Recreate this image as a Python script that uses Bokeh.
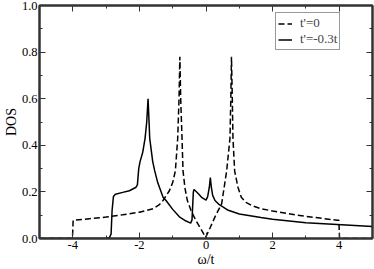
from bokeh.plotting import figure
from bokeh.models import Range1d, LinearAxis, FixedTicker, Legend, LegendItem, ColumnDataSource
from bokeh.embed import file_html
from bokeh.resources import INLINE

# t'=0 (dashed)
w_t0 = [-5.0, -4.01, -3.99, -3.5, -3.0, -2.5, -2.0, -1.59, -1.4, -1.29, -1.1, -1.0, -0.92, -0.85,
        -0.81, -0.785, -0.76, -0.72, -0.69, -0.63, -0.56, -0.45, -0.31, -0.15, -0.01, 0.12, 0.27,
        0.47, 0.62, 0.72, 0.745, 0.765, 0.79, 0.81, 0.86, 0.96, 1.06, 1.2, 1.4, 1.65, 2.0, 2.73,
        3.3, 3.94, 3.99, 4.01, 5.0]
dos_t0 = [0.0, 0.0, 0.078, 0.085, 0.092, 0.102, 0.113, 0.128, 0.145, 0.163, 0.205, 0.24, 0.29, 0.43,
          0.6, 0.78, 0.6, 0.43, 0.29, 0.215, 0.163, 0.12, 0.079, 0.04, 0.005, 0.045, 0.093,
          0.149, 0.29, 0.43, 0.6, 0.78, 0.6, 0.43, 0.29, 0.22, 0.177, 0.155, 0.14, 0.128, 0.118, 0.1,
          0.09, 0.078, 0.078, 0.0, 0.0]

# t'=-0.3t (solid)
w_t03 = [-5.0, -3.0, -2.9, -2.85, -2.82, -2.78, -2.72, -2.5, -2.3, -2.1, -2.06, -2.02, -1.98, -1.9,
         -1.83, -1.78, -1.74, -1.71, -1.69, -1.6, -1.54, -1.45, -1.29, -1.2, -1.0, -0.8, -0.6,
         -0.46, -0.42, -0.38, -0.36, -0.25, -0.12, 0.0, 0.05, 0.1, 0.13, 0.16, 0.2, 0.27, 0.4,
         0.67, 1.0, 1.65, 2.0, 3.0, 3.94, 5.0]
dos_t03 = [0.0, 0.0, 0.003, 0.02, 0.12, 0.18, 0.19, 0.198, 0.205, 0.22, 0.23, 0.30, 0.33, 0.37,
           0.43, 0.5, 0.6, 0.5, 0.43, 0.33, 0.29, 0.24, 0.177, 0.163, 0.125, 0.093, 0.075,
           0.066, 0.08, 0.2, 0.21, 0.195, 0.175, 0.165, 0.18, 0.22, 0.262, 0.22, 0.185, 0.163, 0.145,
           0.121, 0.105, 0.09, 0.083, 0.068, 0.06, 0.051]

x_ticks = [-4, -2, 0, 2, 4]
x_minor = [-5, -3, -1, 1, 3, 5]
x_tick_labels = ["-4", "-2", "0", "2", "4"]
y_ticks = [0.0, 0.2, 0.4, 0.6, 0.8, 1.0]
y_minor = [0.1, 0.3, 0.5, 0.7, 0.9]
y_tick_labels = ["0.0", "0.2", "0.4", "0.6", "0.8", "1.0"]

FONT = "Times New Roman"
AX = "#333333"

p = figure(width=374, height=269, output_backend="svg", toolbar_location=None,
           x_range=Range1d(-5, 5), y_range=Range1d(0, 1),
           x_axis_location=None, y_axis_location=None,
           min_border_left=0, min_border_right=2, min_border_top=5, min_border_bottom=0)
p.grid.visible = False
p.outline_line_color = AX
p.outline_line_width = 2
p.outline_line_alpha = 1
p.background_fill_color = "white"

axes = {}
for side, ticks, minor, labels in [("below", x_ticks, x_minor, x_tick_labels),
                                   ("left", y_ticks, y_minor, y_tick_labels),
                                   ("above", x_ticks, x_minor, None),
                                   ("right", y_ticks, y_minor, None)]:
    show = labels is not None
    ax = LinearAxis(
        ticker=FixedTicker(ticks=ticks, minor_ticks=minor),
        axis_line_color=AX, axis_line_width=2,
        major_tick_line_color=AX, minor_tick_line_color=AX,
        major_tick_in=6, major_tick_out=0, minor_tick_in=3, minor_tick_out=0,
        major_label_text_font=FONT, major_label_text_font_size="12.5px",
        major_label_text_color="black" if show else None,
        major_label_overrides={t: (l if show else "") for t, l in
                               zip(ticks, labels if show else ticks)},
        major_label_standoff=2 if show else 0,
        axis_label_text_font=FONT, axis_label_text_font_size="14px",
        axis_label_text_font_style="normal", axis_label_text_color="black",
        axis_label_standoff=0,
    )
    p.add_layout(ax, side)
    axes[side] = ax

axes["below"].axis_label = "ω/t"
axes["left"].axis_label = "DOS"

s0 = ColumnDataSource(dict(x=w_t0, y=dos_t0))
s1 = ColumnDataSource(dict(x=w_t03, y=dos_t03))
r0 = p.line("x", "y", source=s0, line_color="black", line_width=1.5, line_dash="6 3")
r1 = p.line("x", "y", source=s1, line_color="black", line_width=1.5)

legend = Legend(items=[LegendItem(label="t'=0", renderers=[r0]),
                       LegendItem(label="t'=-0.3t", renderers=[r1])],
                location=(236, 188), orientation="vertical",
                label_text_font=FONT, label_text_font_size="13px",
                glyph_width=14, glyph_height=13, label_height=13, label_standoff=8,
                spacing=0, padding=2, margin=0,
                border_line_color="#333333", border_line_width=1,
                background_fill_color="white", background_fill_alpha=1)
p.add_layout(legend)

open("out.html", "w").write(file_html(p, INLINE))
